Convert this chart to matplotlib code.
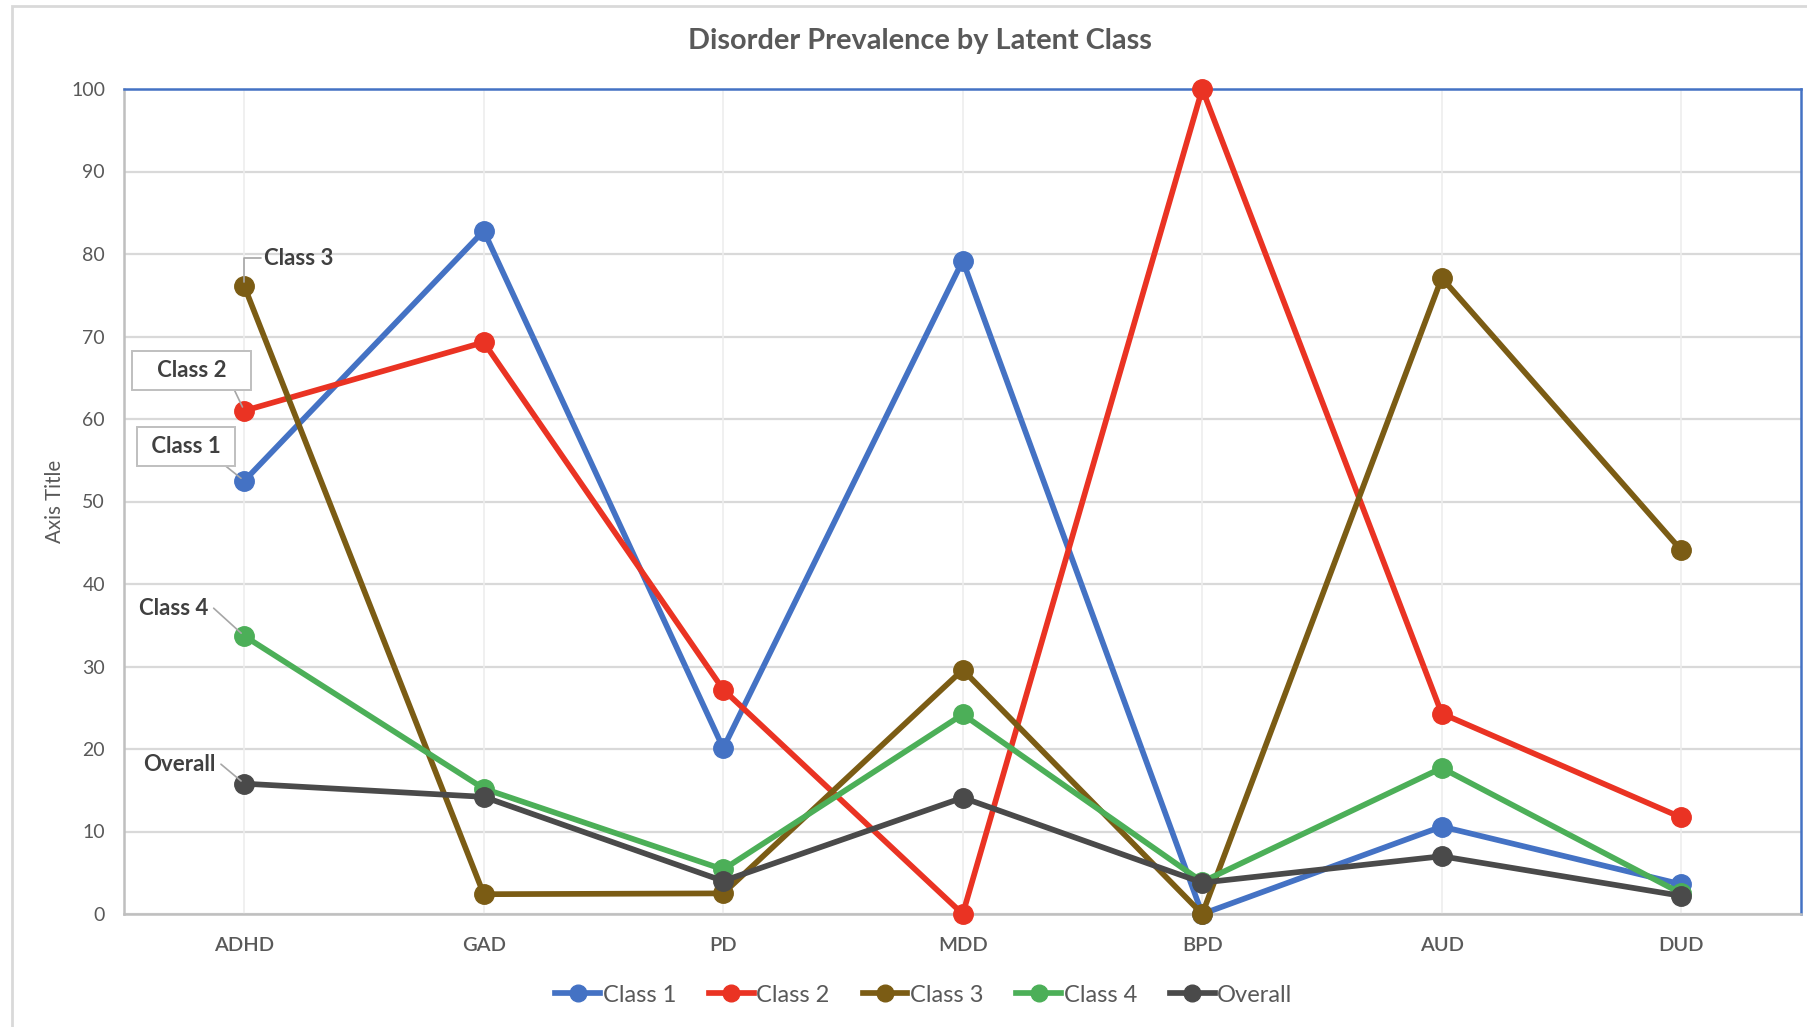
import matplotlib
matplotlib.use("Agg")
import matplotlib.pyplot as plt
from matplotlib.patches import Rectangle
from matplotlib.lines import Line2D

plt.rcParams['font.family'] = ['Lato', 'DejaVu Sans']

categories = ["ADHD", "GAD", "PD", "MDD", "BPD", "AUD", "DUD"]
class1 = [52.5, 82.8, 20.1, 79.2, 0.0, 10.6, 3.6]
class2 = [61.0, 69.3, 27.2, 0.0, 100.0, 24.3, 11.7]
class3 = [76.1, 2.4, 2.5, 29.6, 0.0, 77.1, 44.1]
class4 = [33.7, 15.2, 5.4, 24.2, 3.9, 17.7, 2.5]
overall = [15.8, 14.2, 4.0, 14.1, 3.8, 7.0, 2.2]
series_names = ["Class 1", "Class 2", "Class 3", "Class 4", "Overall"]
yticks = [0, 10, 20, 30, 40, 50, 60, 70, 80, 90, 100]

colors = ["#4472C4", "#EA3323", "#7B5C14", "#4CAF58", "#4A4A4A"]
series = [class1, class2, class3, class4, overall]

W, H = 1808, 1027
fig = plt.figure(figsize=(W / 100, H / 100), dpi=100)
fig.patch.set_facecolor("white")

# outer chart border
fig.add_artist(Rectangle((12 / W, -0.01), 1.2, 1 - 6 / H + 0.01, transform=fig.transFigure,
                         fill=False, edgecolor="#D9D9D9", linewidth=2))

left, right, top, bottom = 124.5 / W, 1801 / W, 1 - 89 / H, 1 - 914 / H
ax = fig.add_axes([left, bottom, right - left, top - bottom])

x = list(range(len(categories)))
for vals, name, c in zip(series, series_names, colors):
    ax.plot(x, vals, color=c, lw=4.1, marker="o", markersize=14, label=name,
            solid_capstyle="round", zorder=3, clip_on=False)

ax.set_xlim(-0.5, len(categories) - 0.5)
ax.set_ylim(0, 100)
ax.set_yticks(yticks)
ax.set_xticks(x)
ax.set_xticklabels(categories, fontsize=14.5, color="#595959", fontweight="semibold")
ax.set_yticklabels([str(t) for t in yticks], fontsize=14, color="#595959")
ax.tick_params(axis="both", length=0)
ax.tick_params(axis="y", pad=14)
ax.tick_params(axis="x", pad=16.5)

for yv in yticks:
    ax.axhline(yv, color="#D9D9D9", lw=1.6, zorder=1)
for xv in x:
    ax.axvline(xv, color="#EDEDED", lw=1.2, zorder=1)

for s in ["left", "bottom"]:
    ax.spines[s].set_color("#BFBFBF")
    ax.spines[s].set_linewidth(1.8)
for s in ["top", "right"]:
    ax.spines[s].set_color("#4472C4")
    ax.spines[s].set_linewidth(1.8)
ax.set_axisbelow(True)

ax.set_ylabel("Axis Title", fontsize=14.8, color="#595959")
ax.yaxis.set_label_coords(-0.0357, 0.5)

fig.text(0.5086, 1 - 41.5 / H, "Disorder Prevalence by Latent Class", ha="center", va="center",
         fontsize=20.8, fontweight="bold", color="#595959")

# data labels at first category
lab_color = "#404040"
fs_lab = 16
lead = dict(arrowstyle="-", color="#A6A6A6", lw=1.2, shrinkA=0, shrinkB=3)
ax.annotate("Class 3", xy=(0, class3[0]), xytext=(14, 20), textcoords="offset points",
            ha="left", va="center", fontsize=fs_lab, fontweight="bold", color=lab_color,
            arrowprops=dict(lead, connectionstyle="angle,angleA=0,angleB=90,rad=0"), zorder=5)
box = dict(boxstyle="square,pad=0.4", fc="white", ec="#BFBFBF", lw=1.4)
ax.annotate("   Class 2   ", xy=(0, class2[0]), xytext=(-38, 29), textcoords="offset points",
            ha="center", va="center", fontsize=fs_lab, fontweight="bold", color=lab_color,
            bbox=box, arrowprops=dict(lead, relpos=(0.88, 0.0)), zorder=5)
ax.annotate(" Class 1 ", xy=(0, class1[0]), xytext=(-42, 25), textcoords="offset points",
            ha="center", va="center", fontsize=fs_lab, fontweight="bold", color=lab_color,
            bbox=box, arrowprops=dict(lead, relpos=(0.85, 0.0)), zorder=5)
ax.annotate("Class 4", xy=(0, class4[0]), xytext=(-51, 20), textcoords="offset points",
            ha="center", va="center", fontsize=fs_lab, fontweight="bold", color=lab_color,
            arrowprops=dict(lead, relpos=(1.08, 0.5)), zorder=5)
ax.annotate("Overall", xy=(0, overall[0]), xytext=(-47, 14), textcoords="offset points",
            ha="center", va="center", fontsize=fs_lab, fontweight="bold", color=lab_color,
            arrowprops=dict(lead, relpos=(1.08, 0.5)), zorder=5)

handles = [Line2D([0], [0], color=c, lw=4.1, marker="o", markersize=12) for c in colors]
fig.legend(handles, series_names, loc="center", bbox_to_anchor=(0.511, 1 - 995 / H), ncol=5,
           frameon=False, fontsize=17, handlelength=1.9, handletextpad=0.1,
           columnspacing=1.4, labelcolor="#595959")

fig.savefig("out.png", dpi=100, facecolor="white")
